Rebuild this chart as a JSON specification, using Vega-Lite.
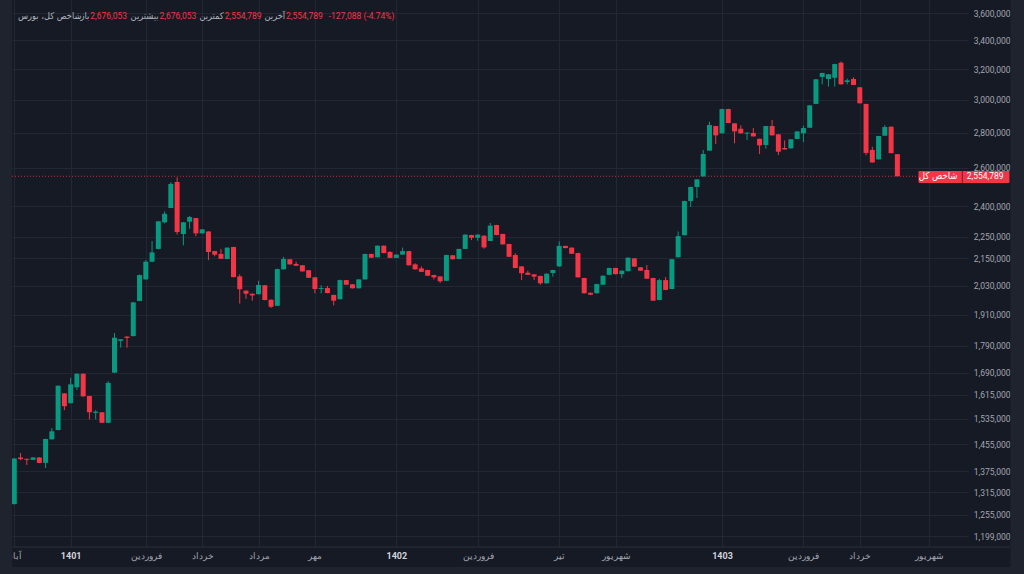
{
  "$schema": "https://vega.github.io/schema/vega-lite/v6.json",
  "width": 961,
  "height": 547,
  "autosize": {"type": "none"},
  "padding": {"left": 7, "top": 0, "right": 56, "bottom": 27},
  "background": "#161a25",
  "config": {
    "view": {"stroke": null},
    "text": {"font": "Roboto", "fontSize": 8.5, "baseline": "middle"},
    "axis": {"labelFont": "Roboto"}
  },
  "datasets": {
    "candles": [
      {"i": 1, "o": 1283000, "h": 1413000, "l": 1282000, "c": 1412000},
      {"i": 2, "o": 1415000, "h": 1428000, "l": 1407000, "c": 1410000},
      {"i": 3, "o": 1411000, "h": 1412000, "l": 1393000, "c": 1408000},
      {"i": 4, "o": 1408000, "h": 1416000, "l": 1407000, "c": 1415000},
      {"i": 5, "o": 1415000, "h": 1416000, "l": 1398000, "c": 1399000},
      {"i": 6, "o": 1399000, "h": 1472000, "l": 1384000, "c": 1471000},
      {"i": 7, "o": 1470000, "h": 1505000, "l": 1469000, "c": 1495000},
      {"i": 8, "o": 1499000, "h": 1647000, "l": 1498000, "c": 1645000},
      {"i": 9, "o": 1619000, "h": 1620000, "l": 1563000, "c": 1576000},
      {"i": 10, "o": 1586000, "h": 1673000, "l": 1585000, "c": 1650000},
      {"i": 11, "o": 1640000, "h": 1689000, "l": 1631000, "c": 1687000},
      {"i": 12, "o": 1687000, "h": 1689000, "l": 1608000, "c": 1609000},
      {"i": 13, "o": 1610000, "h": 1611000, "l": 1533000, "c": 1556000},
      {"i": 14, "o": 1554000, "h": 1563000, "l": 1533000, "c": 1558000},
      {"i": 15, "o": 1556000, "h": 1557000, "l": 1521000, "c": 1522000},
      {"i": 16, "o": 1522000, "h": 1661000, "l": 1521000, "c": 1655000},
      {"i": 17, "o": 1691000, "h": 1838000, "l": 1690000, "c": 1820000},
      {"i": 18, "o": 1808000, "h": 1815000, "l": 1782000, "c": 1814000},
      {"i": 19, "o": 1824000, "h": 1826000, "l": 1782000, "c": 1819000},
      {"i": 20, "o": 1826000, "h": 1962000, "l": 1825000, "c": 1960000},
      {"i": 21, "o": 1966000, "h": 2078000, "l": 1965000, "c": 2076000},
      {"i": 22, "o": 2057000, "h": 2142000, "l": 2056000, "c": 2135000},
      {"i": 23, "o": 2135000, "h": 2230000, "l": 2133000, "c": 2177000},
      {"i": 24, "o": 2193000, "h": 2326000, "l": 2191000, "c": 2324000},
      {"i": 25, "o": 2319000, "h": 2373000, "l": 2314000, "c": 2361000},
      {"i": 26, "o": 2390000, "h": 2523000, "l": 2389000, "c": 2514000},
      {"i": 27, "o": 2524000, "h": 2549000, "l": 2260000, "c": 2272000},
      {"i": 28, "o": 2263000, "h": 2320000, "l": 2210000, "c": 2319000},
      {"i": 29, "o": 2322000, "h": 2350000, "l": 2288000, "c": 2345000},
      {"i": 30, "o": 2340000, "h": 2341000, "l": 2252000, "c": 2266000},
      {"i": 31, "o": 2266000, "h": 2286000, "l": 2265000, "c": 2285000},
      {"i": 32, "o": 2275000, "h": 2276000, "l": 2142000, "c": 2179000},
      {"i": 33, "o": 2183000, "h": 2184000, "l": 2159000, "c": 2167000},
      {"i": 34, "o": 2170000, "h": 2193000, "l": 2147000, "c": 2148000},
      {"i": 35, "o": 2147000, "h": 2200000, "l": 2146000, "c": 2199000},
      {"i": 36, "o": 2202000, "h": 2203000, "l": 2066000, "c": 2067000},
      {"i": 37, "o": 2070000, "h": 2079000, "l": 1955000, "c": 2015000},
      {"i": 38, "o": 2009000, "h": 2010000, "l": 1975000, "c": 1996000},
      {"i": 39, "o": 1996000, "h": 1997000, "l": 1967000, "c": 1989000},
      {"i": 40, "o": 1994000, "h": 2051000, "l": 1993000, "c": 2033000},
      {"i": 41, "o": 2032000, "h": 2033000, "l": 1969000, "c": 1970000},
      {"i": 42, "o": 1971000, "h": 1972000, "l": 1937000, "c": 1942000},
      {"i": 43, "o": 1946000, "h": 2104000, "l": 1945000, "c": 2102000},
      {"i": 44, "o": 2101000, "h": 2157000, "l": 2100000, "c": 2147000},
      {"i": 45, "o": 2146000, "h": 2147000, "l": 2122000, "c": 2123000},
      {"i": 46, "o": 2125000, "h": 2135000, "l": 2116000, "c": 2117000},
      {"i": 47, "o": 2119000, "h": 2120000, "l": 2091000, "c": 2092000},
      {"i": 48, "o": 2097000, "h": 2098000, "l": 2063000, "c": 2064000},
      {"i": 49, "o": 2066000, "h": 2067000, "l": 1998000, "c": 2016000},
      {"i": 50, "o": 2016000, "h": 2032000, "l": 1998000, "c": 2020000},
      {"i": 51, "o": 2020000, "h": 2029000, "l": 1998000, "c": 1999000},
      {"i": 52, "o": 1991000, "h": 1992000, "l": 1948000, "c": 1967000},
      {"i": 53, "o": 1973000, "h": 2056000, "l": 1972000, "c": 2054000},
      {"i": 54, "o": 2054000, "h": 2055000, "l": 2033000, "c": 2034000},
      {"i": 55, "o": 2036000, "h": 2037000, "l": 2018000, "c": 2019000},
      {"i": 56, "o": 2019000, "h": 2058000, "l": 2018000, "c": 2057000},
      {"i": 57, "o": 2057000, "h": 2171000, "l": 2056000, "c": 2170000},
      {"i": 58, "o": 2170000, "h": 2171000, "l": 2152000, "c": 2153000},
      {"i": 59, "o": 2155000, "h": 2209000, "l": 2154000, "c": 2208000},
      {"i": 60, "o": 2208000, "h": 2209000, "l": 2173000, "c": 2174000},
      {"i": 61, "o": 2179000, "h": 2183000, "l": 2151000, "c": 2152000},
      {"i": 62, "o": 2152000, "h": 2168000, "l": 2151000, "c": 2167000},
      {"i": 63, "o": 2167000, "h": 2199000, "l": 2166000, "c": 2183000},
      {"i": 64, "o": 2183000, "h": 2184000, "l": 2118000, "c": 2119000},
      {"i": 65, "o": 2123000, "h": 2128000, "l": 2100000, "c": 2101000},
      {"i": 66, "o": 2105000, "h": 2114000, "l": 2089000, "c": 2090000},
      {"i": 67, "o": 2098000, "h": 2099000, "l": 2072000, "c": 2073000},
      {"i": 68, "o": 2076000, "h": 2077000, "l": 2057000, "c": 2066000},
      {"i": 69, "o": 2070000, "h": 2071000, "l": 2042000, "c": 2049000},
      {"i": 70, "o": 2051000, "h": 2167000, "l": 2050000, "c": 2165000},
      {"i": 71, "o": 2164000, "h": 2165000, "l": 2145000, "c": 2146000},
      {"i": 72, "o": 2147000, "h": 2194000, "l": 2146000, "c": 2193000},
      {"i": 73, "o": 2193000, "h": 2261000, "l": 2192000, "c": 2260000},
      {"i": 74, "o": 2258000, "h": 2259000, "l": 2234000, "c": 2245000},
      {"i": 75, "o": 2245000, "h": 2261000, "l": 2231000, "c": 2260000},
      {"i": 76, "o": 2255000, "h": 2256000, "l": 2194000, "c": 2200000},
      {"i": 77, "o": 2230000, "h": 2316000, "l": 2229000, "c": 2303000},
      {"i": 78, "o": 2306000, "h": 2307000, "l": 2257000, "c": 2258000},
      {"i": 79, "o": 2263000, "h": 2264000, "l": 2213000, "c": 2214000},
      {"i": 80, "o": 2216000, "h": 2217000, "l": 2156000, "c": 2157000},
      {"i": 81, "o": 2165000, "h": 2173000, "l": 2106000, "c": 2107000},
      {"i": 82, "o": 2114000, "h": 2115000, "l": 2054000, "c": 2084000},
      {"i": 83, "o": 2086000, "h": 2095000, "l": 2076000, "c": 2077000},
      {"i": 84, "o": 2079000, "h": 2080000, "l": 2054000, "c": 2069000},
      {"i": 85, "o": 2072000, "h": 2073000, "l": 2034000, "c": 2040000},
      {"i": 86, "o": 2040000, "h": 2083000, "l": 2039000, "c": 2082000},
      {"i": 87, "o": 2085000, "h": 2099000, "l": 2069000, "c": 2098000},
      {"i": 88, "o": 2114000, "h": 2228000, "l": 2113000, "c": 2207000},
      {"i": 89, "o": 2207000, "h": 2208000, "l": 2196000, "c": 2197000},
      {"i": 90, "o": 2199000, "h": 2200000, "l": 2170000, "c": 2171000},
      {"i": 91, "o": 2174000, "h": 2175000, "l": 2065000, "c": 2066000},
      {"i": 92, "o": 2063000, "h": 2064000, "l": 1997000, "c": 1998000},
      {"i": 93, "o": 2000000, "h": 2001000, "l": 1990000, "c": 1992000},
      {"i": 94, "o": 1998000, "h": 2038000, "l": 1997000, "c": 2037000},
      {"i": 95, "o": 2034000, "h": 2074000, "l": 2033000, "c": 2073000},
      {"i": 96, "o": 2077000, "h": 2108000, "l": 2076000, "c": 2107000},
      {"i": 97, "o": 2107000, "h": 2108000, "l": 2079000, "c": 2080000},
      {"i": 98, "o": 2080000, "h": 2096000, "l": 2064000, "c": 2095000},
      {"i": 99, "o": 2093000, "h": 2154000, "l": 2092000, "c": 2153000},
      {"i": 100, "o": 2150000, "h": 2151000, "l": 2112000, "c": 2113000},
      {"i": 101, "o": 2110000, "h": 2111000, "l": 2094000, "c": 2095000},
      {"i": 102, "o": 2098000, "h": 2120000, "l": 2059000, "c": 2060000},
      {"i": 103, "o": 2063000, "h": 2064000, "l": 1966000, "c": 1967000},
      {"i": 104, "o": 1970000, "h": 2060000, "l": 1969000, "c": 2054000},
      {"i": 105, "o": 2054000, "h": 2067000, "l": 2011000, "c": 2012000},
      {"i": 106, "o": 2016000, "h": 2147000, "l": 2015000, "c": 2146000},
      {"i": 107, "o": 2155000, "h": 2275000, "l": 2154000, "c": 2253000},
      {"i": 108, "o": 2257000, "h": 2427000, "l": 2256000, "c": 2425000},
      {"i": 109, "o": 2425000, "h": 2499000, "l": 2396000, "c": 2498000},
      {"i": 110, "o": 2498000, "h": 2539000, "l": 2441000, "c": 2538000},
      {"i": 111, "o": 2554000, "h": 2700000, "l": 2553000, "c": 2677000},
      {"i": 112, "o": 2696000, "h": 2865000, "l": 2695000, "c": 2845000},
      {"i": 113, "o": 2839000, "h": 2840000, "l": 2734000, "c": 2784000},
      {"i": 114, "o": 2796000, "h": 2944000, "l": 2795000, "c": 2942000},
      {"i": 115, "o": 2942000, "h": 2944000, "l": 2856000, "c": 2857000},
      {"i": 116, "o": 2855000, "h": 2856000, "l": 2738000, "c": 2807000},
      {"i": 117, "o": 2823000, "h": 2843000, "l": 2795000, "c": 2796000},
      {"i": 118, "o": 2794000, "h": 2801000, "l": 2757000, "c": 2800000},
      {"i": 119, "o": 2798000, "h": 2827000, "l": 2777000, "c": 2778000},
      {"i": 120, "o": 2764000, "h": 2765000, "l": 2677000, "c": 2726000},
      {"i": 121, "o": 2728000, "h": 2840000, "l": 2707000, "c": 2839000},
      {"i": 122, "o": 2839000, "h": 2875000, "l": 2783000, "c": 2784000},
      {"i": 123, "o": 2790000, "h": 2791000, "l": 2671000, "c": 2690000},
      {"i": 124, "o": 2711000, "h": 2755000, "l": 2702000, "c": 2703000},
      {"i": 125, "o": 2709000, "h": 2762000, "l": 2708000, "c": 2761000},
      {"i": 126, "o": 2763000, "h": 2808000, "l": 2762000, "c": 2807000},
      {"i": 127, "o": 2796000, "h": 2841000, "l": 2745000, "c": 2827000},
      {"i": 128, "o": 2829000, "h": 2967000, "l": 2828000, "c": 2965000},
      {"i": 129, "o": 2974000, "h": 3134000, "l": 2973000, "c": 3132000},
      {"i": 130, "o": 3147000, "h": 3175000, "l": 3099000, "c": 3174000},
      {"i": 131, "o": 3134000, "h": 3166000, "l": 3084000, "c": 3165000},
      {"i": 132, "o": 3142000, "h": 3236000, "l": 3084000, "c": 3234000},
      {"i": 133, "o": 3243000, "h": 3251000, "l": 3098000, "c": 3099000},
      {"i": 134, "o": 3114000, "h": 3136000, "l": 3099000, "c": 3125000},
      {"i": 135, "o": 3134000, "h": 3145000, "l": 3094000, "c": 3095000},
      {"i": 136, "o": 3080000, "h": 3081000, "l": 2977000, "c": 2978000},
      {"i": 137, "o": 2974000, "h": 2975000, "l": 2670000, "c": 2683000},
      {"i": 138, "o": 2700000, "h": 2718000, "l": 2629000, "c": 2630000},
      {"i": 139, "o": 2647000, "h": 2781000, "l": 2646000, "c": 2780000},
      {"i": 140, "o": 2782000, "h": 2845000, "l": 2781000, "c": 2833000},
      {"i": 141, "o": 2835000, "h": 2836000, "l": 2681877, "c": 2681877},
      {"i": 142, "o": 2676053, "h": 2676053, "l": 2554789, "c": 2554789}
    ]
  },
  "layer": [
    {
      "data": {"values": [{}]},
      "mark": {"type": "rule", "color": "#f23645", "strokeWidth": 1, "strokeDash": [1, 2], "opacity": 0.8},
      "encoding": {
        "x": {
          "datum": 0.637,
          "type": "quantitative",
          "scale": {"domain": [0.637, 152.48], "nice": false, "zero": false},
          "axis": {
            "title": null,
            "values": [0.9, 10, 22, 31, 40, 49, 62, 75, 88, 97, 114, 127, 136, 147],
            "labelExpr": "datum.value < 5 ? 'آبان' : datum.value == 10 ? '1401' : datum.value == 22 ? 'فروردین' : datum.value == 31 ? 'خرداد' : datum.value == 40 ? 'مرداد' : datum.value == 49 ? 'مهر' : datum.value == 62 ? '1402' : datum.value == 75 ? 'فروردین' : datum.value == 88 ? 'تیر' : datum.value == 97 ? 'شهریور' : datum.value == 114 ? '1403' : datum.value == 127 ? 'فروردین' : datum.value == 136 ? 'خرداد' : 'شهریور'",
            "grid": true,
            "gridColor": "#232733",
            "ticks": false,
            "domain": false,
            "labelFontSize": 9,
            "labelColor": {"condition": {"test": "datum.value == 10 || datum.value == 62 || datum.value == 114", "value": "#d1d4dc"}, "value": "#a3a6af"},
            "labelFontWeight": {"condition": {"test": "datum.value == 10 || datum.value == 62 || datum.value == 114", "value": "bold"}, "value": "normal"},
            "labelPadding": 4,
            "labelOverlap": false,
            "labelFlush": false,
            "labelBound": false
          }
        },
        "x2": {"datum": 152.48},
        "y": {
          "datum": 2554789,
          "type": "quantitative",
          "scale": {"type": "log", "domain": [1172430, 3699700], "nice": false, "zero": false},
          "axis": {
            "title": null,
            "orient": "right",
            "values": [3600000, 3400000, 3200000, 3000000, 2800000, 2600000, 2400000, 2250000, 2150000, 2030000, 1910000, 1790000, 1690000, 1615000, 1535000, 1455000, 1375000, 1315000, 1255000, 1199000],
            "format": ",d",
            "grid": true,
            "gridColor": "#232733",
            "ticks": false,
            "domain": false,
            "labelAlign": "right",
            "labelBaseline": "middle",
            "labelPadding": 42,
            "labelFontSize": 8.5,
            "labelColor": "#a3a6af",
            "labelOverlap": false
          }
        }
      }
    },
    {
      "data": {"name": "candles"},
      "mark": {"type": "rule", "strokeWidth": 1},
      "encoding": {
        "x": {"field": "i", "type": "quantitative"},
        "y": {"field": "l", "type": "quantitative"},
        "y2": {"field": "h"},
        "color": {"condition": {"test": "datum.c >= datum.o", "value": "#089981"}, "value": "#f23645"}
      }
    },
    {
      "data": {"name": "candles"},
      "mark": {"type": "bar", "width": 5},
      "encoding": {
        "x": {"field": "i", "type": "quantitative"},
        "y": {"field": "o", "type": "quantitative"},
        "y2": {"field": "c"},
        "color": {"condition": {"test": "datum.c >= datum.o", "value": "#089981"}, "value": "#f23645"}
      }
    },
    {
      "data": {"values": [{}]},
      "mark": {"type": "rule", "color": "#2a2e39", "strokeWidth": 1},
      "encoding": {
        "x": {"datum": 0.637, "type": "quantitative"},
        "x2": {"datum": 160.06},
        "y": {"datum": 1172430, "type": "quantitative"}
      }
    },
    {
      "data": {"values": [{}]},
      "mark": {"type": "rect", "color": "#1f232e"},
      "encoding": {
        "x": {"datum": -5, "type": "quantitative"},
        "x2": {"datum": 0.637},
        "y": {"datum": 900000, "type": "quantitative"},
        "y2": {"datum": 4200000}
      }
    },
    {
      "data": {"values": [{}]},
      "mark": {"type": "rect", "color": "#1f232e"},
      "encoding": {
        "x": {"datum": 160.06, "type": "quantitative"},
        "x2": {"datum": 175},
        "y": {"datum": 900000, "type": "quantitative"},
        "y2": {"datum": 4200000}
      }
    },
    {
      "data": {"values": [{}]},
      "mark": {"type": "rect", "color": "#1f232e"},
      "encoding": {
        "x": {"datum": -5, "type": "quantitative"},
        "x2": {"datum": 175},
        "y": {"datum": 900000, "type": "quantitative"},
        "y2": {"datum": 1124200}
      }
    },
    {
      "data": {"values": [{}]},
      "mark": {"type": "rect", "color": "#f23645", "cornerRadius": 1},
      "encoding": {
        "x": {"datum": 145.37, "type": "quantitative"},
        "x2": {"datum": 159.9},
        "y": {"datum": 2518810, "type": "quantitative"},
        "y2": {"datum": 2583120}
      }
    },
    {
      "data": {"values": [{}]},
      "mark": {"type": "rule", "color": "#7a1c26", "strokeWidth": 1},
      "encoding": {
        "x": {"datum": 152.37, "type": "quantitative"},
        "y": {"datum": 2518810, "type": "quantitative"},
        "y2": {"datum": 2583120}
      }
    },
    {
      "data": {"values": [{}]},
      "mark": {"type": "text", "color": "#ffffff", "align": "right", "font": "DejaVu Sans Condensed", "fontSize": 9.5},
      "encoding": {
        "x": {"datum": 151.6, "type": "quantitative"},
        "y": {"datum": 2554789, "type": "quantitative"},
        "text": {"value": "شاخص کل"}
      }
    },
    {
      "data": {"values": [{}]},
      "mark": {"type": "text", "color": "#ffffff", "align": "right"},
      "encoding": {
        "x": {"datum": 158.95, "type": "quantitative"},
        "y": {"datum": 2554789, "type": "quantitative"},
        "text": {"value": "2,554,789"}
      }
    },
    {
      "data": {"values": [{}]},
      "mark": {"type": "text", "color": "#b2b5be", "align": "left", "font": "DejaVu Sans Condensed", "fontSize": 9.2},
      "encoding": {
        "x": {"datum": 1.585, "type": "quantitative"},
        "y": {"datum": 3577400, "type": "quantitative"},
        "text": {"value": "شاخص کل، بورس"}
      }
    },
    {
      "data": {"values": [{}]},
      "mark": {"type": "text", "color": "#b2b5be", "align": "right", "font": "DejaVu Sans Condensed", "fontSize": 9.2},
      "encoding": {
        "x": {"datum": 12.98, "type": "quantitative"},
        "y": {"datum": 3577400, "type": "quantitative"},
        "text": {"value": "باز"}
      }
    },
    {
      "data": {"values": [{}]},
      "mark": {"type": "text", "color": "#f23645", "align": "left"},
      "encoding": {
        "x": {"datum": 13.12, "type": "quantitative"},
        "y": {"datum": 3577400, "type": "quantitative"},
        "text": {"value": "2,676,053"}
      }
    },
    {
      "data": {"values": [{}]},
      "mark": {"type": "text", "color": "#b2b5be", "align": "right", "font": "DejaVu Sans Condensed", "fontSize": 9.2},
      "encoding": {
        "x": {"datum": 24.02, "type": "quantitative"},
        "y": {"datum": 3577400, "type": "quantitative"},
        "text": {"value": "بیشترین"}
      }
    },
    {
      "data": {"values": [{}]},
      "mark": {"type": "text", "color": "#f23645", "align": "left"},
      "encoding": {
        "x": {"datum": 24.18, "type": "quantitative"},
        "y": {"datum": 3577400, "type": "quantitative"},
        "text": {"value": "2,676,053"}
      }
    },
    {
      "data": {"values": [{}]},
      "mark": {"type": "text", "color": "#b2b5be", "align": "right", "font": "DejaVu Sans Condensed", "fontSize": 9.2},
      "encoding": {
        "x": {"datum": 34.45, "type": "quantitative"},
        "y": {"datum": 3577400, "type": "quantitative"},
        "text": {"value": "کمترین"}
      }
    },
    {
      "data": {"values": [{}]},
      "mark": {"type": "text", "color": "#f23645", "align": "left"},
      "encoding": {
        "x": {"datum": 34.61, "type": "quantitative"},
        "y": {"datum": 3577400, "type": "quantitative"},
        "text": {"value": "2,554,789"}
      }
    },
    {
      "data": {"values": [{}]},
      "mark": {"type": "text", "color": "#b2b5be", "align": "right", "font": "DejaVu Sans Condensed", "fontSize": 9.2},
      "encoding": {
        "x": {"datum": 44.25, "type": "quantitative"},
        "y": {"datum": 3577400, "type": "quantitative"},
        "text": {"value": "آخرین"}
      }
    },
    {
      "data": {"values": [{}]},
      "mark": {"type": "text", "color": "#f23645", "align": "left"},
      "encoding": {
        "x": {"datum": 44.4, "type": "quantitative"},
        "y": {"datum": 3577400, "type": "quantitative"},
        "text": {"value": "2,554,789"}
      }
    },
    {
      "data": {"values": [{}]},
      "mark": {"type": "text", "color": "#f23645", "align": "left"},
      "encoding": {
        "x": {"datum": 51.2, "type": "quantitative"},
        "y": {"datum": 3577400, "type": "quantitative"},
        "text": {"value": "-127,088 (-4.74%)"}
      }
    }
  ]
}
